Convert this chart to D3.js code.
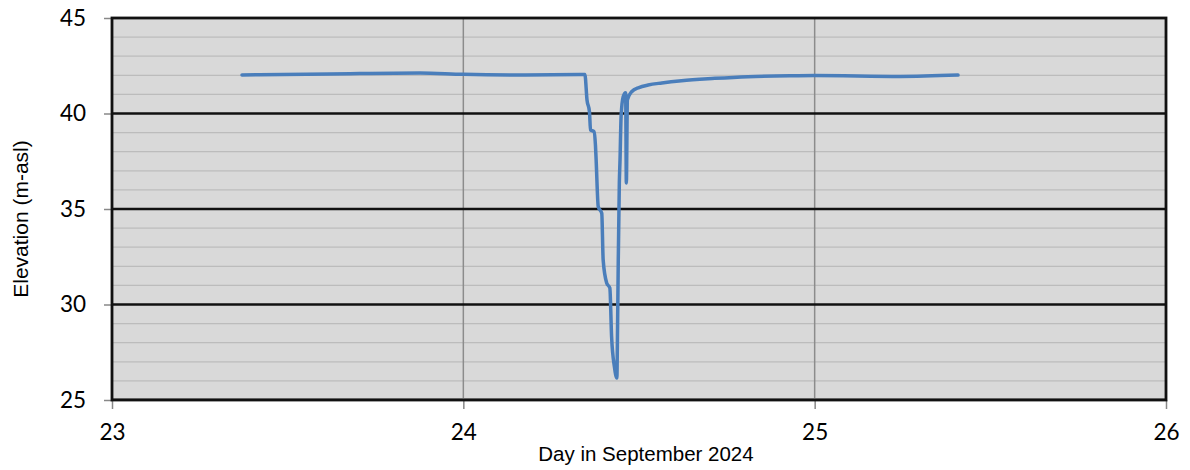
<!DOCTYPE html>
<html><head><meta charset="utf-8">
<script src="https://cdn.jsdelivr.net/npm/d3@7"></script>
<style>body{margin:0;background:#fff}svg{display:block}</style>
</head><body><svg id="c" width="1190" height="470"></svg>
<script>
const days = [23.370,23.620,23.877,24.000,24.161,24.346,24.352,24.359,24.362,24.372,24.376,24.378,24.384,24.394,24.398,24.408,24.417,24.422,24.430,24.437,24.439,24.441,24.444,24.446,24.449,24.455,24.462,24.464,24.467,24.479,24.500,24.526,24.565,24.621,24.716,24.810,24.944,25.000,25.243,25.408];
const elevation = [42.02,42.07,42.12,42.05,42.02,42.04,40.71,40.09,39.14,39.05,38.35,37.57,35.12,34.78,32.33,31.13,30.86,28.31,26.74,26.15,28.84,32.33,36.35,37.57,39.83,40.88,41.09,36.36,40.71,41.14,41.36,41.49,41.60,41.72,41.84,41.93,41.98,41.99,41.94,42.01];
const xTicks = [23,24,25,26];
const yTicks = [25,30,35,40,45];
const yMinor = d3.range(25,46,1);
const xTitle = "Day in September 2024";
const yTitle = "Elevation (m-asl)";

const svg = d3.select("#c");
const L=112,R=1166,T=18,B=400;
const x = d3.scaleLinear().domain([23,26]).range([L,R]);
const y = d3.scaleLinear().domain([25,45]).range([B,T]);

svg.append("rect").attr("x",L).attr("y",T).attr("width",R-L).attr("height",B-T).attr("fill","#d9d9d9");
svg.append("g").selectAll("line").data(yMinor.filter(v=>v%5!==0)).join("line")
  .attr("x1",L).attr("x2",R).attr("y1",d=>y(d)).attr("y2",d=>y(d))
  .attr("stroke","#bcbcbc").attr("stroke-width",1.3);
svg.append("g").selectAll("line").data(xTicks.slice(1,-1)).join("line")
  .attr("x1",d=>x(d)).attr("x2",d=>x(d)).attr("y1",T).attr("y2",B)
  .attr("stroke","#8c8c8c").attr("stroke-width",1.5);
svg.append("g").selectAll("line").data(yTicks.filter(v=>v>25&&v<45)).join("line")
  .attr("x1",L).attr("x2",R).attr("y1",d=>y(d)).attr("y2",d=>y(d))
  .attr("stroke","#111").attr("stroke-width",2.5);

const yAxis = svg.append("g").attr("transform",`translate(${L},0)`)
  .call(d3.axisLeft(y).tickValues(yTicks).tickSize(8).tickPadding(18));
yAxis.select(".domain").remove();
yAxis.selectAll(".tick line").attr("stroke","#888").attr("stroke-width",1.5);
yAxis.selectAll("text").attr("font-family","Lato, 'Open Sans', sans-serif").attr("font-size",22.5).attr("fill","#000");

const xAxis = svg.append("g").attr("transform",`translate(0,${B})`)
  .call(d3.axisBottom(x).tickValues(xTicks).tickSize(9).tickPadding(15).tickFormat(d3.format("d")));
xAxis.select(".domain").remove();
xAxis.selectAll(".tick line").attr("stroke","#888").attr("stroke-width",1.5);
xAxis.selectAll("text").attr("font-family","Lato, 'Open Sans', sans-serif").attr("font-size",22.5).attr("fill","#000");

svg.append("line").attr("x1",L).attr("x2",R).attr("y1",B-1.5).attr("y2",B-1.5).attr("stroke","#999").attr("stroke-width",1.2);
svg.append("rect").attr("x",L).attr("y",T).attr("width",R-L).attr("height",B-T)
  .attr("fill","none").attr("stroke","#111").attr("stroke-width",2.8);

svg.append("path").datum(days.map((d,i)=>[d,elevation[i]]))
  .attr("d",d3.line().curve(d3.curveMonotoneX).x(d=>x(d[0])).y(d=>y(d[1])))
  .attr("fill","none").attr("stroke","#4a7ebb").attr("stroke-width",3.5)
  .attr("stroke-linejoin","round").attr("stroke-linecap","round");

svg.append("text").attr("x",646).attr("y",461).attr("text-anchor","middle")
  .attr("font-family","'Liberation Sans', Arial, sans-serif").attr("font-size",20.5).text(xTitle);
svg.append("text").attr("transform","translate(28,219) rotate(-90)").attr("text-anchor","middle")
  .attr("font-family","'Liberation Sans', Arial, sans-serif").attr("font-size",21).text(yTitle);
</script></body></html>
